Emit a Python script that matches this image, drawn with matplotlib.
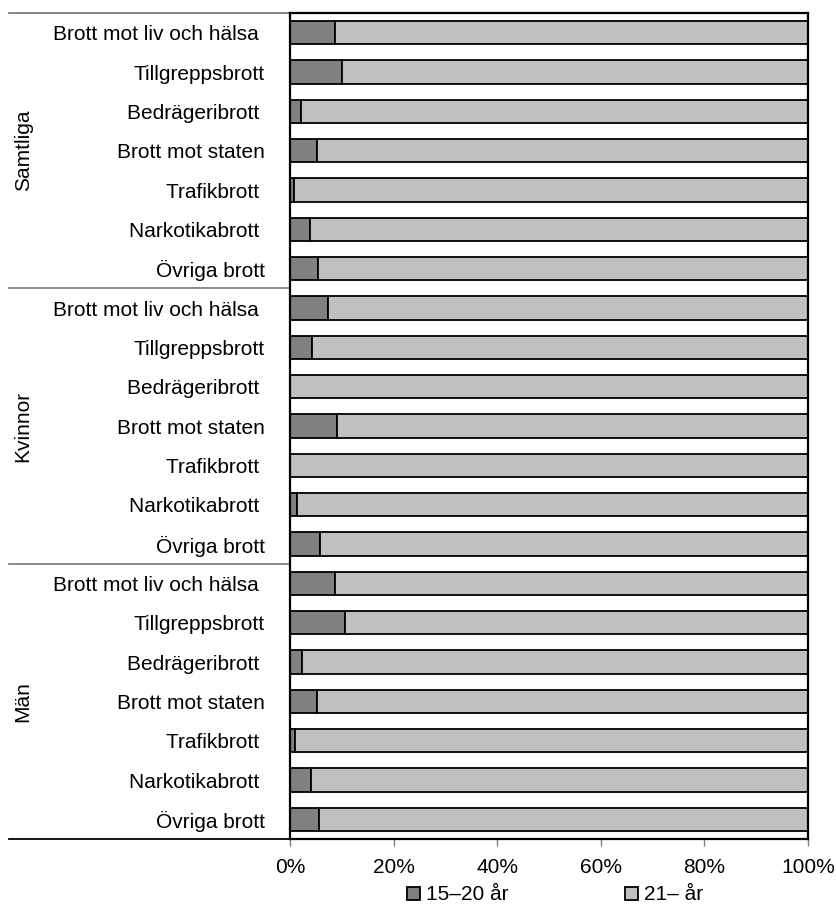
import matplotlib.pyplot as plt
import matplotlib.transforms as mtransforms
import numpy as np

plt.rcParams['font.family'] = ['Liberation Sans', 'DejaVu Sans']

# ---- data ----
groups = ['Samtliga', 'Kvinnor', 'Män']
categories = ['Brott mot liv och hälsa ', 'Tillgreppsbrott', 'Bedrägeribrott ',
              'Brott mot staten', 'Trafikbrott ', 'Narkotikabrott ', 'Övriga brott']
young_samtliga = [8.7, 10.0, 2.2, 5.3, 0.7, 3.8, 5.5]
young_kvinnor = [7.3, 4.2, 0.0, 9.1, 0.0, 1.4, 5.7]
young_man = [8.7, 10.6, 2.4, 5.2, 0.9, 4.0, 5.6]
series_names = ['15–20 år', '21– år']
xticks = [0, 20, 40, 60, 80, 100]

young = np.array(young_samtliga + young_kvinnor + young_man)
old = 100 - young
labels = categories * 3
n = len(labels)
ypos = np.arange(n)
fs = 15

fig = plt.figure(figsize=(8.37, 9.14), dpi=100)
ax = fig.add_axes([290 / 837, 1 - 839 / 914, 518 / 837, 826 / 914])

ax.barh(ypos, young, height=0.6, color='#808080', edgecolor='black', linewidth=1.3,
        label=series_names[0])
ax.barh(ypos, old, left=young, height=0.6, color='#c0c0c0', edgecolor='black', linewidth=1.3,
        label=series_names[1])

ax.set_ylim(n - 0.5, -0.5)
ax.set_xlim(0, 100)
ax.set_yticks(ypos)
ax.set_yticklabels(labels, fontsize=fs)
ax.tick_params(axis='y', length=0, pad=18)
ax.set_xticks(xticks)
ax.set_xticklabels([f'{t}%' for t in xticks], fontsize=fs)
ax.tick_params(axis='x', length=5, width=1, color='#808080', pad=9)
for s in ax.spines.values():
    s.set_linewidth(1.6)
    s.set_color('black')

# group separators and labels on the left
trans = mtransforms.blended_transform_factory(ax.transAxes, ax.transData)
for k, g in enumerate(groups):
    top = k * 7 - 0.5
    ax.plot([-0.542, 0], [top, top], transform=trans, color='#808080', lw=1.3, clip_on=False)
    ax.text(-0.515, k * 7 + 3, g, transform=trans, rotation=90, ha='center', va='center',
            fontsize=fs)
ax.plot([-0.542, 0], [n - 0.5, n - 0.5], transform=trans, color='black', lw=1.3, clip_on=False)

fig.legend(loc='center', bbox_to_anchor=(555 / 837, 1 - 895 / 914), ncol=2, frameon=False,
           fontsize=fs, handlelength=0.6, handleheight=0.6, handletextpad=0.3,
           columnspacing=5.6, borderpad=0)

fig.savefig('out.png', dpi=100)
